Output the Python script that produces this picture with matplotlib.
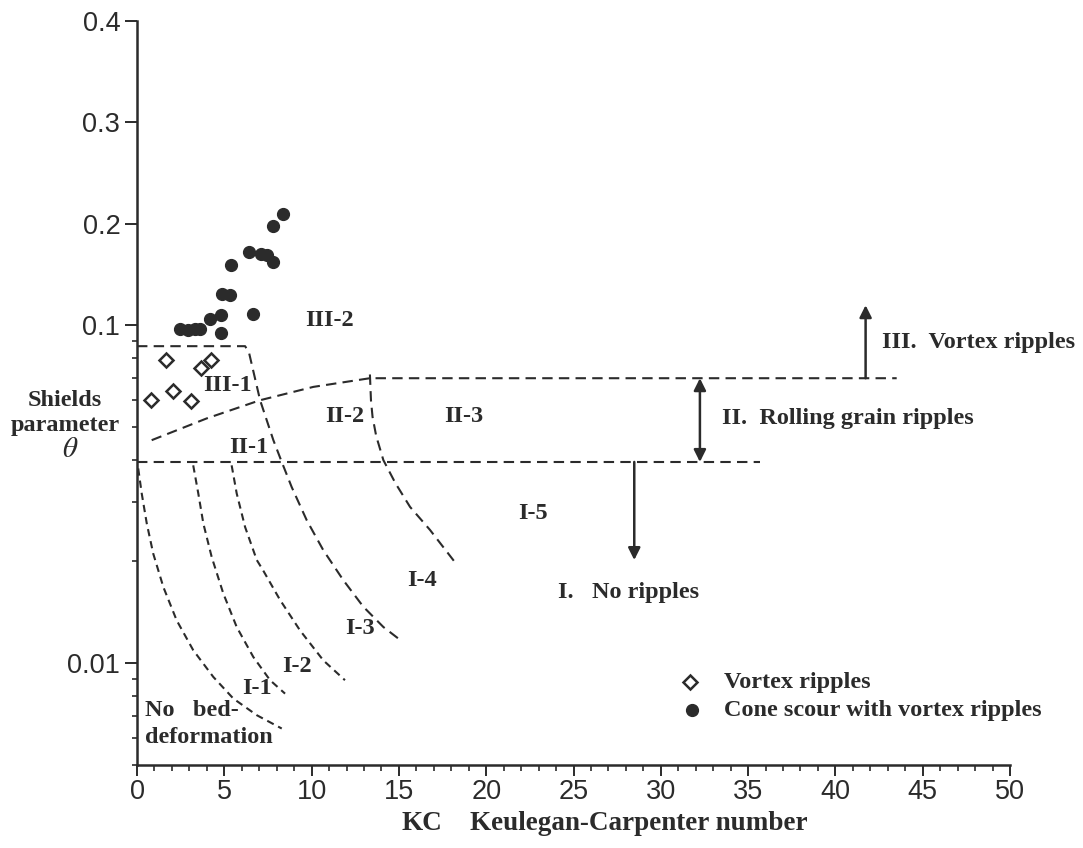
import numpy as np
import matplotlib
matplotlib.use("Agg")
import matplotlib.pyplot as plt
from matplotlib.ticker import FixedLocator, FixedFormatter

# ---------------- data ----------------
vortex_kc = [1.64, 0.78, 2.08, 3.08, 3.65, 4.24]
vortex_theta = [0.0791, 0.0600, 0.0639, 0.0598, 0.0747, 0.0788]

cone_kc = [2.49, 2.93, 3.32, 3.61, 4.18, 4.81, 4.81, 4.87, 5.33, 5.38,
           6.43, 6.67, 7.08, 7.42, 7.79, 7.77, 8.38]
cone_theta = [0.0973, 0.0966, 0.0973, 0.0973, 0.1066, 0.1105, 0.0951, 0.1305,
              0.1296, 0.1598, 0.1722, 0.1108, 0.1700, 0.1690, 0.1618, 0.1982, 0.2094]

# boundary curves (KC, theta)
curve_a_kc = [0.07, 0.27, 0.56, 0.93, 1.51, 2.27, 3.22, 4.37, 5.52, 6.86, 8.29]
curve_a_theta = [0.0377, 0.0318, 0.0259, 0.0211, 0.0168, 0.0134, 0.01093,
                 0.00911, 0.00786, 0.00702, 0.00641]

curve_b_kc = [3.22, 3.51, 3.80, 4.28, 4.94, 5.71, 6.66, 7.62, 8.48]
curve_b_theta = [0.0385, 0.0318, 0.0259, 0.0206, 0.0161, 0.0128, 0.01044,
                 0.00891, 0.00813]

curve_c_kc = [5.42, 5.71, 6.19, 6.86, 7.23, 8.19, 9.34, 10.67, 11.91]
curve_c_theta = [0.0385, 0.0318, 0.0253, 0.0202, 0.0188, 0.0154, 0.0125,
                 0.0102, 0.00891]

curve_d_kc = [0.0, 6.19, 6.41, 7.05, 7.81, 8.29, 8.86, 9.72, 10.67, 11.82,
              12.96, 14.11, 14.97]
curve_d_theta = [0.0867, 0.0867, 0.0832, 0.0600, 0.0457, 0.0394, 0.0332,
                 0.0265, 0.0216, 0.0176, 0.0147, 0.0128, 0.01183]

curve_e_kc = [13.34, 13.40, 13.49, 13.70, 14.11, 14.80, 15.64, 16.78, 18.21]
curve_e_theta = [0.0715, 0.0600, 0.0536, 0.0470, 0.0399, 0.0341, 0.0290, 0.0248, 0.0199]

upper_kc = [0.84, 3.99, 7.05, 10.10, 13.34, 43.51]
upper_theta = [0.0457, 0.0530, 0.0600, 0.0657, 0.0697, 0.0697]

lower_kc = [0.0, 35.68]
lower_theta = [0.0394, 0.0394]

region_labels = ["III-2", "III-1", "II-1", "II-2", "II-3", "I-5",
                 "I-4", "I-3", "I-2", "I-1"]
region_kc = [11.01, 5.17, 6.37, 11.91, 18.69, 22.70, 16.31, 12.77, 9.15, 6.86]
region_theta = [0.1042, 0.0665, 0.0436, 0.0536, 0.0536, 0.0277,
                0.0176, 0.01267, 0.00975, 0.00842]

class_labels = ["III.  Vortex ripples", "II.  Rolling grain ripples", "I.   No ripples"]
class_kc = [42.65, 33.49, 24.11]
class_theta = [0.0892, 0.0530, 0.01622]

# arrows: (kc, theta_from, theta_to)
arrow_up = (41.73, 0.0697, 0.1197)
arrow_both = (32.24, 0.0697, 0.0394)
arrow_down = (28.48, 0.0394, 0.0202)

y_major = [0.01, 0.1, 0.2, 0.3, 0.4]
y_major_labels = ["0.01", "0.1", "0.2", "0.3", "0.4"]
y_minor = [0.005, 0.006, 0.007, 0.008, 0.009, 0.02, 0.03, 0.04, 0.05,
           0.06, 0.07, 0.08, 0.09]
x_major = [0, 5, 10, 15, 20, 25, 30, 35, 40, 45, 50]

# ---------------- scale ----------------
K = 3.003


def fwd(y):
    y = np.asarray(y, dtype=float)
    with np.errstate(divide="ignore", invalid="ignore"):
        lo = np.log10(np.where(y > 0, y, 1e-300))
    hi = -1.0 + (y - 0.1) * K
    return np.where(y <= 0.1, lo, hi)


def inv(v):
    v = np.asarray(v, dtype=float)
    lo = 10.0 ** np.minimum(v, -1.0)
    hi = 0.1 + (v + 1.0) / K
    return np.where(v <= -1.0, lo, hi)


INK = "#2b2b2b"
SERIF = ["Liberation Serif", "DejaVu Serif"]
SANS = ["Liberation Sans", "DejaVu Sans"]
FS = 17.5

fig = plt.figure(figsize=(10.83, 8.48), dpi=100)
ax = fig.add_axes([137 / 1083, 1 - 765 / 848, (1010 - 137) / 1083, (765 - 20.7) / 848])
ax.set_yscale("function", functions=(fwd, inv))
ax.set_xlim(0, 50)
ax.set_ylim(0.005, 0.4)

for s in ["top", "right"]:
    ax.spines[s].set_visible(False)
for s in ["left", "bottom"]:
    ax.spines[s].set_color(INK)
    ax.spines[s].set_linewidth(1.8)

ax.yaxis.set_major_locator(FixedLocator(y_major))
ax.yaxis.set_major_formatter(FixedFormatter(y_major_labels))
ax.yaxis.set_minor_locator(FixedLocator(y_minor))
ax.yaxis.set_minor_formatter(FixedFormatter([""] * len(y_minor)))
ax.xaxis.set_major_locator(FixedLocator(x_major))
ax.xaxis.set_minor_locator(FixedLocator(list(range(0, 51))))

ax.tick_params(axis="y", which="major", direction="out", length=8.5, width=1.4,
               color=INK, labelsize=19.5, labelcolor=INK, pad=3.5)
ax.tick_params(axis="y", which="minor", direction="out", length=3.5, width=1.2, color=INK)
ax.tick_params(axis="x", which="major", direction="out", length=8, width=1.4,
               color=INK, labelsize=19.5, labelcolor=INK, pad=2)
ax.tick_params(axis="x", which="minor", direction="out", length=4.5, width=1.2, color=INK)
for lab in ax.get_xticklabels() + ax.get_yticklabels():
    lab.set_fontfamily(SANS)

# boundaries
long_dash = (5, 3)
short_dash = (3.5, 2.4)
for kc, th, dsh in [(curve_a_kc, curve_a_theta, short_dash),
                    (curve_b_kc, curve_b_theta, short_dash),
                    (curve_c_kc, curve_c_theta, short_dash),
                    (curve_d_kc, curve_d_theta, long_dash),
                    (curve_e_kc, curve_e_theta, long_dash),
                    (upper_kc, upper_theta, long_dash),
                    (lower_kc, lower_theta, long_dash)]:
    ln, = ax.plot(kc, th, color=INK, lw=1.5, clip_on=False, solid_joinstyle="round")
    ln.set_dashes(dsh)

# points
ax.plot(cone_kc, cone_theta, "o", color=INK, markersize=8.5, clip_on=False, zorder=5)
ax.plot(vortex_kc, vortex_theta, "D", markerfacecolor="white", markeredgecolor=INK,
        markeredgewidth=1.8, markersize=7.5, linestyle="none", zorder=5)

# arrows
for (xa, y0, y1), style in [(arrow_up, "-|>"), (arrow_both, "<|-|>"), (arrow_down, "-|>")]:
    ax.annotate("", xy=(xa, y1), xytext=(xa, y0),
                arrowprops=dict(arrowstyle=style, color=INK, lw=1.8, mutation_scale=18,
                                shrinkA=0, shrinkB=0))

# text labels
for t, x, y in zip(region_labels, region_kc, region_theta):
    ax.text(x, y, t, family=SERIF, fontweight="bold", fontsize=FS, color=INK,
            ha="center", va="center")
for t, x, y in zip(class_labels, class_kc, class_theta):
    ax.text(x, y, t, family=SERIF, fontweight="bold", fontsize=FS, color=INK,
            ha="left", va="center")

ax.text(0.46, 0.00726, "No   bed-", family=SERIF, fontweight="bold", fontsize=FS,
        color=INK, ha="left", va="center")
ax.text(0.46, 0.00603, "deformation", family=SERIF, fontweight="bold", fontsize=FS,
        color=INK, ha="left", va="center")

# legend (manual)
ax.plot([31.67], [0.00879], "D", markerfacecolor="white", markeredgecolor=INK,
        markeredgewidth=1.8, markersize=7.5)
ax.plot([31.79], [0.00726], "o", color=INK, markersize=8.5)
ax.text(33.62, 0.00879, "Vortex ripples", family=SERIF, fontweight="bold",
        fontsize=FS, color=INK, ha="left", va="center")
ax.text(33.62, 0.00726, "Cone scour with vortex ripples", family=SERIF,
        fontweight="bold", fontsize=FS, color=INK, ha="left", va="center")

# axis titles
fig.text(65 / 1083, 1 - 400 / 848, "Shields", family=SERIF, fontweight="bold",
         fontsize=FS, color=INK, ha="center", va="center")
fig.text(65 / 1083, 1 - 426 / 848, "parameter", family=SERIF, fontweight="bold",
         fontsize=FS, color=INK, ha="center", va="center")
fig.text(70 / 1083, 1 - 449 / 848, r"$\theta$", fontsize=21, color=INK,
         ha="center", va="center", math_fontfamily="stix")
fig.text(401 / 1083, 1 - 823 / 848, "KC", family=SERIF, fontweight="bold",
         fontsize=19.5, color=INK, ha="left", va="center")
fig.text(470 / 1083, 1 - 823 / 848, "Keulegan-Carpenter number", family=SERIF,
         fontweight="bold", fontsize=19.5, color=INK, ha="left", va="center")

fig.savefig("out.png", dpi=100, facecolor="white")
